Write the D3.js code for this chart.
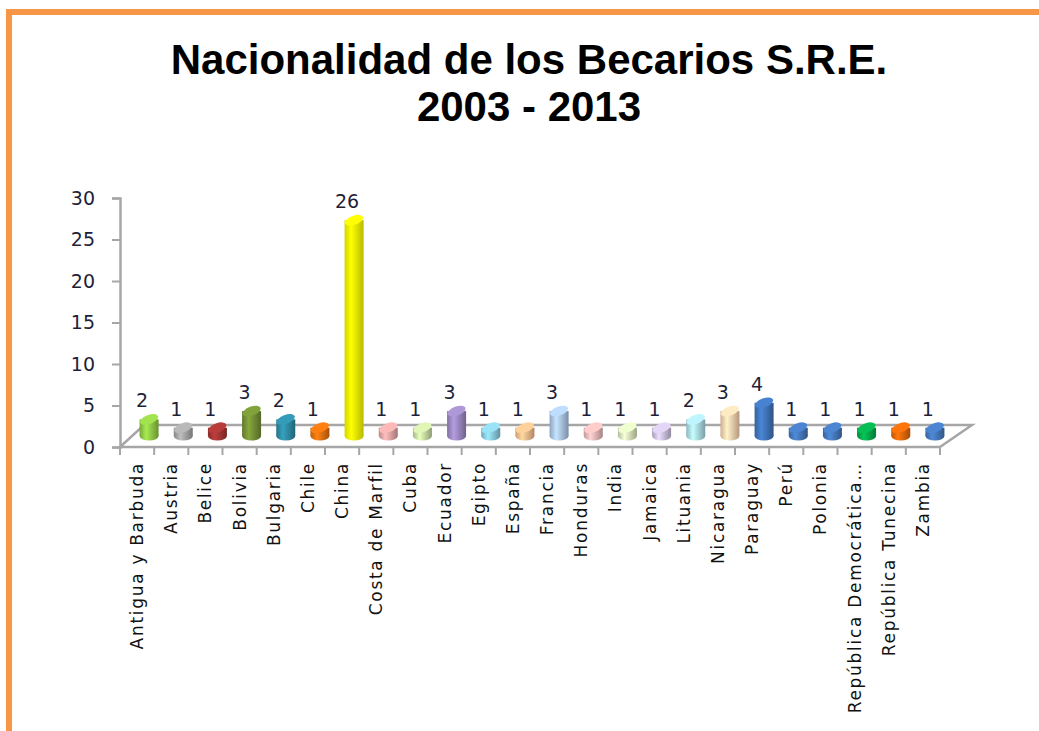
<!DOCTYPE html>
<html>
<head>
<meta charset="utf-8">
<script src="https://cdn.jsdelivr.net/npm/d3@7"></script>
<style>
  body { margin: 0; background: #fff; }
  svg { display: block; }
</style>
</head>
<body>
<div id="chart"></div>
<script>
// chart data
var paises = ["Antigua y Barbuda", "Austria", "Belice", "Bolivia", "Bulgaria", "Chile", "China",
  "Costa de Marfil", "Cuba", "Ecuador", "Egipto", "España", "Francia", "Honduras", "India",
  "Jamaica", "Lituania", "Nicaragua", "Paraguay", "Perú", "Polonia",
  "República Democrática…", "República Tunecina", "Zambia"];
var becarios = [2, 1, 1, 3, 2, 1, 26, 1, 1, 3, 1, 1, 3, 1, 1, 1, 2, 3, 4, 1, 1, 1, 1, 1];
var colores = ["#8fc845", "#a3a3a3", "#a33533", "#738f35", "#2e8aa2", "#e5700f", "#ffff00",
  "#dea3a2", "#c5d9a0", "#9a86bf", "#86c8da", "#f7b98a", "#a9c3e4", "#e6b5b4", "#d3e2b8",
  "#c8bddb", "#a9d8e4", "#f9cfac", "#3f73b8", "#4376b9", "#4376b9", "#06a84b", "#e5660a", "#4376b9"];
var yTicks = [0, 5, 10, 15, 20, 25, 30];

var W = 1039, H = 731;
var depth = {dx: 24, dy: -22};

var svg = d3.select("#chart").append("svg")
  .attr("width", W).attr("height", H);

// orange frame
svg.append("rect")
  .attr("x", 9).attr("y", 12)
  .attr("width", W + 20).attr("height", H + 20)
  .attr("fill", "none")
  .attr("stroke", "#f79646")
  .attr("stroke-width", 6);

// title
var title = svg.append("text")
  .attr("text-anchor", "middle")
  .style("font-family", "Liberation Sans, Arial, sans-serif")
  .style("font-weight", "bold")
  .style("font-size", "42px")
  .attr("fill", "#000");
title.append("tspan").attr("x", 529).attr("y", 74).text("Nacionalidad de los Becarios S.R.E.");
title.append("tspan").attr("x", 529).attr("y", 121).text("2003 - 2013");

// scales
var x = d3.scaleBand().domain(paises).range([120, 940]);
var y = d3.scaleLinear().domain([0, 30]).range([447, 198]);

var defs = svg.append("defs");
colores.forEach(function(c, i) {
  var g = defs.append("linearGradient").attr("id", "grad" + i)
    .attr("x1", "0%").attr("x2", "100%").attr("y1", "0%").attr("y2", "0%");
  g.append("stop").attr("offset", "0%").attr("stop-color", d3.color(c).darker(0.5));
  g.append("stop").attr("offset", "35%").attr("stop-color", d3.color(c).brighter(0.45));
  g.append("stop").attr("offset", "100%").attr("stop-color", d3.color(c).darker(0.9));
});

// floor
var x0 = x.range()[0], x1 = x.range()[1], y0 = y(0);
var floor = svg.append("g").attr("stroke", "#a6a6a6").attr("stroke-width", 2.5).attr("fill", "none");
floor.append("path")
  .attr("d", "M" + x0 + "," + y0 + "L" + (x0 + depth.dx) + "," + (y0 + depth.dy) +
    "L" + (x1 + depth.dx + 8) + "," + (y0 + depth.dy) + "L" + x1 + "," + y0 + "Z");

// y axis
var yAxis = svg.append("g")
  .attr("transform", "translate(" + x0 + ",0)")
  .call(d3.axisLeft(y).tickValues(yTicks).tickSize(8).tickPadding(17));
yAxis.select(".domain").attr("stroke", "#a6a6a6").attr("stroke-width", 2.5);
yAxis.selectAll(".tick line").attr("stroke", "#a6a6a6").attr("stroke-width", 2);
yAxis.selectAll(".tick text")
  .style("font-family", "DejaVu Sans, Verdana, sans-serif")
  .style("font-size", "19px")
  .attr("fill", "#1f1f3a");

// x ticks at band boundaries
var bounds = paises.map(function(d) { return x(d); }).concat([x1]);
svg.append("g").selectAll("line")
  .data(bounds).enter().append("line")
  .attr("x1", function(d) { return d; }).attr("x2", function(d) { return d; })
  .attr("y1", y0).attr("y2", y0 + 8)
  .attr("stroke", "#a6a6a6").attr("stroke-width", 2);

// x labels
var xAxis = svg.append("g")
  .attr("transform", "translate(0," + y0 + ")")
  .call(d3.axisBottom(x).tickSize(0));
xAxis.select(".domain").remove();
xAxis.selectAll(".tick text")
  .attr("transform", "rotate(-90)")
  .attr("x", -15).attr("y", 0).attr("dy", "0.35em")
  .style("text-anchor", "end")
  .style("font-family", "DejaVu Sans, Verdana, sans-serif")
  .style("font-size", "17px")
  .style("letter-spacing", "1.7px")
  .attr("fill", "#111");

// cylinders
var bw = 19, ry = 4.5;
var bars = svg.append("g").selectAll("g")
  .data(paises).enter().append("g")
  .attr("transform", function(d) {
    return "translate(" + (x(d) + x.bandwidth() / 2 + depth.dx / 2) + "," + (depth.dy / 2) + ")";
  });

bars.append("ellipse")
  .attr("cx", 0).attr("cy", y(0)).attr("rx", bw / 2).attr("ry", ry)
  .attr("fill", function(d, i) { return "url(#grad" + i + ")"; });
bars.append("rect")
  .attr("x", -bw / 2).attr("width", bw)
  .attr("y", function(d, i) { return y(becarios[i]); })
  .attr("height", function(d, i) { return y(0) - y(becarios[i]); })
  .attr("fill", function(d, i) { return "url(#grad" + i + ")"; });
bars.append("ellipse")
  .attr("cx", 0).attr("cy", function(d, i) { return y(becarios[i]); })
  .attr("rx", bw / 2).attr("ry", ry)
  .attr("transform", function(d, i) { return "rotate(-20,0," + y(becarios[i]) + ")"; })
  .attr("fill", function(d, i) { return d3.color(colores[i]).brighter(0.35); });

// data labels
bars.append("text")
  .attr("x", -7)
  .attr("y", function(d, i) { return y(becarios[i]) - 12; })
  .attr("text-anchor", "middle")
  .style("font-family", "DejaVu Sans, Verdana, sans-serif")
  .style("font-size", "19px")
  .attr("fill", "#1f1f3a")
  .text(function(d, i) { return becarios[i]; });
</script>
</body>
</html>
